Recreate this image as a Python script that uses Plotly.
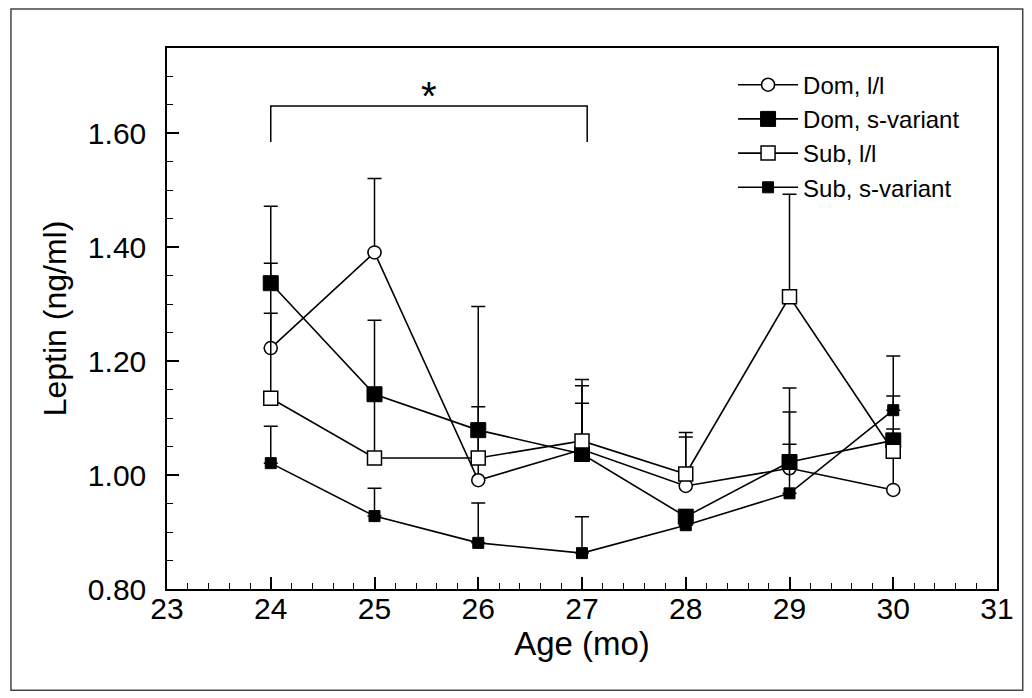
import plotly.graph_objects as go

ages = [24, 25, 26, 27, 28, 29, 30]

dom_ll = [1.223, 1.391, 0.991, 1.045, 0.981, 1.012, 0.974]
dom_ll_err = [0.149, 0.130, 0.305, 0.123, 0.086, 0.099, 0.076]

dom_sv = [1.337, 1.142, 1.079, 1.037, 0.927, 1.023, 1.061]
dom_sv_err = [0.135, 0.130, 0.041, 0.089, 0.012, 0.130, 0.148]

sub_ll = [1.135, 1.030, 1.030, 1.060, 1.002, 1.313, 1.042]
sub_ll_err = [0.149, 0.110, 0.049, 0.097, 0.073, 0.180, 0.039]

sub_sv = [1.021, 0.928, 0.881, 0.863, 0.912, 0.968, 1.114]
sub_sv_err = [0.065, 0.049, 0.070, 0.064, 0.010, 0.086, 0.025]

x_ticks = [23, 24, 25, 26, 27, 28, 29, 30, 31]
y_ticks = [0.80, 1.00, 1.20, 1.40, 1.60]
y_ticklabels = ["0.80", "1.00", "1.20", "1.40", "1.60"]

sig_bracket = {"x0": 24, "x1": 27.05, "y_low": 1.585, "y_high": 1.648, "label": "*"}

FONT = "Liberation Sans, Arial, Helvetica, sans-serif"

series = [
    ("Dom, l/l", dom_ll, dom_ll_err, dict(symbol="circle", size=13, color="white", line=dict(color="black", width=1.5))),
    ("Dom, s-variant", dom_sv, dom_sv_err, dict(symbol="square", size=15, color="black", line=dict(color="black", width=1))),
    ("Sub, l/l", sub_ll, sub_ll_err, dict(symbol="square", size=14, color="white", line=dict(color="black", width=1.5))),
    ("Sub, s-variant", sub_sv, sub_sv_err, dict(symbol="square", size=11, color="black", line=dict(color="black", width=1))),
]

fig = go.Figure()
for name, vals, errs, marker in series:
    fig.add_trace(go.Scatter(
        x=ages, y=vals, name=name, mode="lines+markers",
        line=dict(color="black", width=1.6),
        marker=marker,
        error_y=dict(type="data", symmetric=False, array=errs,
                     arrayminus=[0] * len(errs), color="black",
                     thickness=1.5, width=7),
    ))

# significance bracket
b = sig_bracket
fig.add_shape(type="path",
              path=f"M {b['x0']},{b['y_low']} L {b['x0']},{b['y_high']} L {b['x1']},{b['y_high']} L {b['x1']},{b['y_low']}",
              xref="x", yref="y", line=dict(color="black", width=1.5))
fig.add_annotation(x=(b['x0'] + b['x1']) / 2, y=b['y_high'], text=b['label'],
                   xref="x", yref="y", showarrow=False, yanchor="bottom",
                   font=dict(family=FONT, size=40, color="black"), yshift=-14)

# outer frame
fig.add_shape(type="rect", xref="paper", yref="paper",
              x0=-0.188, x1=1.031, y0=-0.187, y1=1.072,
              line=dict(color="#444444", width=1.5))

fig.update_layout(
    width=1032, height=698,
    margin=dict(l=159, r=43, t=40, b=117),
    paper_bgcolor="white", plot_bgcolor="white",
    font=dict(family=FONT, color="black"),
    showlegend=True,
    legend=dict(x=0.682, y=0.973, xanchor="left", yanchor="top",
                font=dict(family=FONT, size=24, color="black"),
                bgcolor="rgba(0,0,0,0)", tracegroupgap=0, itemwidth=60),
    xaxis=dict(range=[23, 31], tickvals=x_ticks, ticks="inside", ticklen=12,
               tickwidth=1.5, tickcolor="black", showline=True, linewidth=1.5,
               linecolor="black", mirror=True, showgrid=False, zeroline=False,
               tickfont=dict(size=30, family=FONT), ticklabelstandoff=-8,
               minor=dict(ticks="inside", ticklen=6, dtick=0.2, tick0=23,
                          tickwidth=1.2, tickcolor="black", showgrid=False),
               title=dict(text="Age (mo)", font=dict(size=33, family=FONT), standoff=8)),
    yaxis=dict(range=[0.80, 1.75], tickvals=y_ticks, ticktext=y_ticklabels,
               ticks="inside", ticklen=12, tickwidth=1.5, tickcolor="black",
               showline=True, linewidth=1.5, linecolor="black", mirror=True,
               showgrid=False, zeroline=False,
               tickfont=dict(size=30, family=FONT), ticklabelstandoff=13,
               minor=dict(ticks="inside", ticklen=6, dtick=0.05, tick0=0.8,
                          tickwidth=1.2, tickcolor="black", showgrid=False),
               title=dict(text="Leptin (ng/ml)", font=dict(size=32, family=FONT), standoff=12)),
)

fig.write_html("out.html")
